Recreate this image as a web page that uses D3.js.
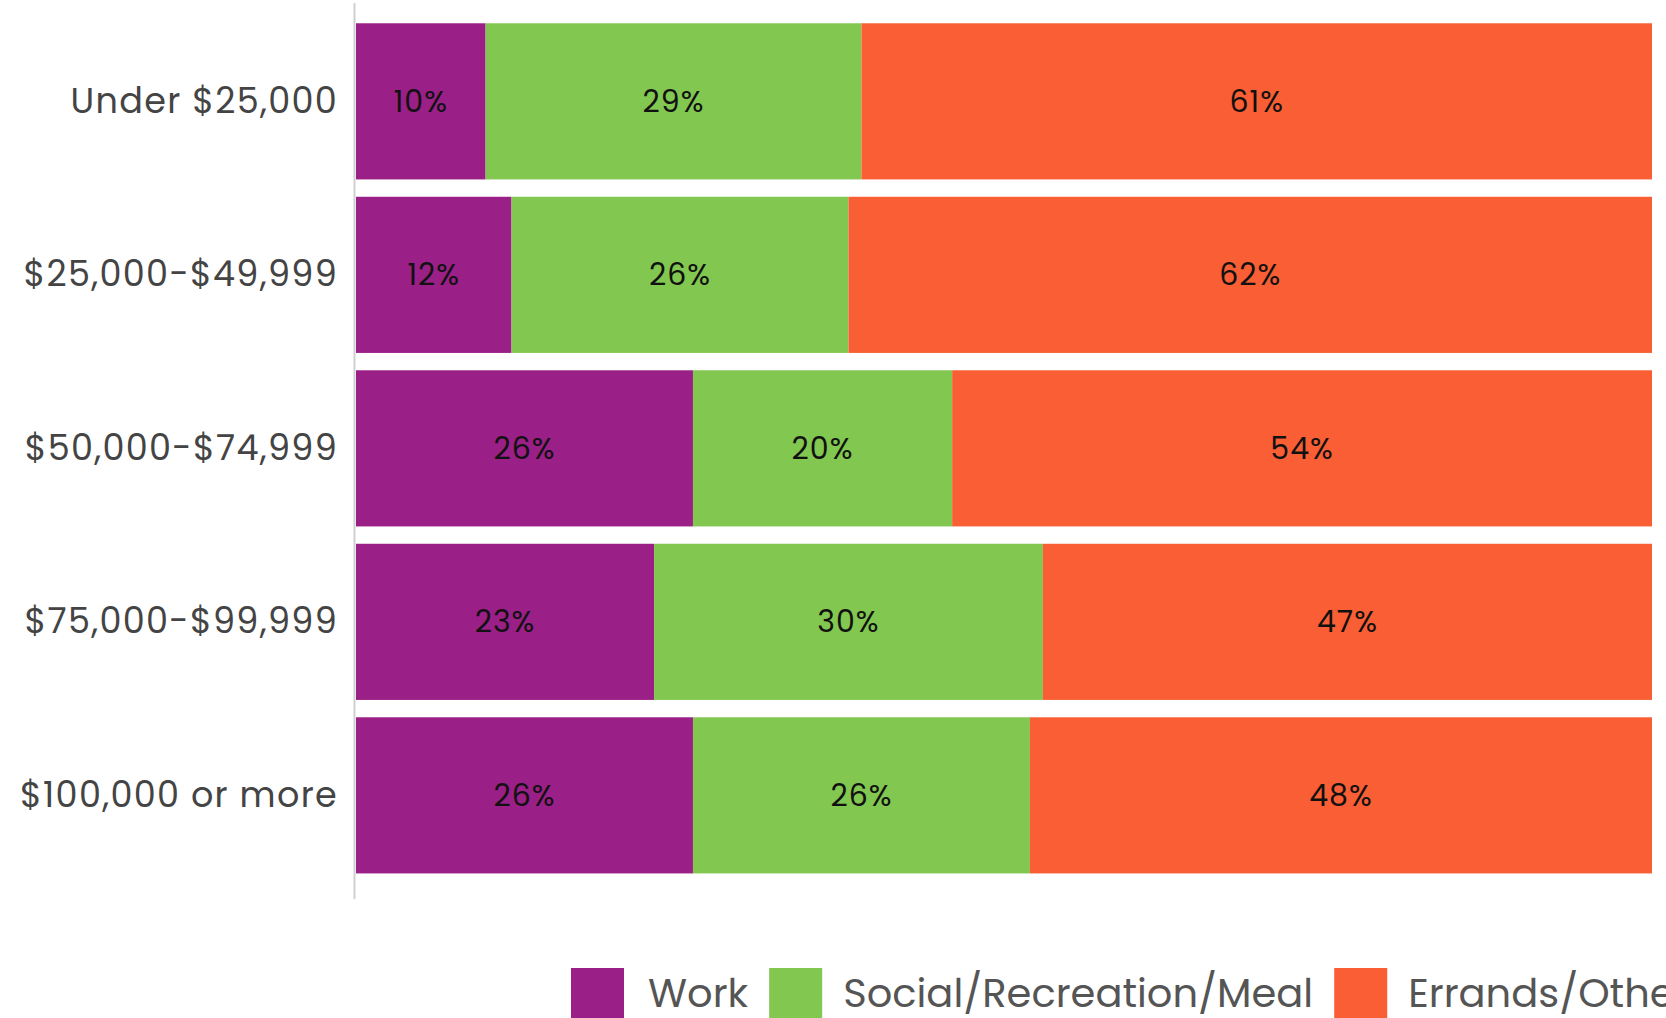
<!DOCTYPE html>
<html>
<head>
<meta charset="utf-8">
<script src="https://cdn.jsdelivr.net/npm/d3@7"></script>
<style>
  html, body { margin: 0; padding: 0; background: #ffffff; overflow: hidden; }
  svg { display: block; }
  text { font-family: Poppins, Inter, "Open Sans", sans-serif; }
</style>
</head>
<body>
<svg id="chart" width="1666" height="1018"></svg>
<script>
// Trip purpose share by household income
const categories = ["Under $25,000", "$25,000-$49,999", "$50,000-$74,999", "$75,000-$99,999", "$100,000 or more"];
const seriesNames = ["Work", "Social/Recreation/Meal", "Errands/Other"];
const work = [10, 12, 26, 23, 26];
const social = [29, 26, 20, 30, 26];
const errands = [61, 62, 54, 47, 48];
const colors = ["#9A1F87", "#82C750", "#F95E34"];

const svg = d3.select("#chart");

const rows = categories.map((c, i) => ({ category: c, "Work": work[i], "Social/Recreation/Meal": social[i], "Errands/Other": errands[i] }));
const stacked = d3.stack().keys(seriesNames)(rows);

const x = d3.scaleLinear().domain([0, 100]).range([356, 1652]);
const y = d3.scaleBand().domain(categories).range([14.6, 882.1]).paddingInner(0.1).paddingOuter(0.05);
const color = d3.scaleOrdinal().domain(seriesNames).range(colors);

// bars
const layers = svg.append("g").selectAll("g")
  .data(stacked)
  .join("g")
  .attr("fill", d => color(d.key));

layers.selectAll("rect")
  .data(d => d)
  .join("rect")
  .attr("x", d => x(d[0]))
  .attr("y", d => y(d.data.category))
  .attr("width", d => x(d[1]) - x(d[0]))
  .attr("height", y.bandwidth());

// value labels
layers.selectAll("text")
  .data(d => d.map(v => ({ v, key: d.key })))
  .join("text")
  .attr("x", d => (x(d.v[0]) + x(d.v[1])) / 2)
  .attr("y", d => y(d.v.data.category) + y.bandwidth() / 2)
  .attr("text-anchor", "middle")
  .attr("dominant-baseline", "central")
  .attr("fill", "#111111")
  .attr("font-size", 30)
  .attr("letter-spacing", 1)
  .text(d => d.v.data[d.key] + "%");

// category axis
const axis = svg.append("g")
  .attr("transform", `translate(${x(0) - 2},0)`)
  .call(d3.axisLeft(y).tickSize(0).tickPadding(16));
axis.select(".domain").remove();
axis.selectAll("text")
  .attr("font-size", 35)
  .attr("letter-spacing", 1.3)
  .attr("fill", "#444444")
  .attr("font-family", "Poppins, Inter, 'Open Sans', sans-serif");

svg.append("line")
  .attr("x1", x(0) - 1.5).attr("x2", x(0) - 1.5)
  .attr("y1", 3).attr("y2", 899)
  .attr("stroke", "#d0d0d0")
  .attr("stroke-width", 2);

// legend
const legend = svg.append("g").attr("transform", "translate(571,968)");
let cursor = 0;
seriesNames.forEach((name, i) => {
  const g = legend.append("g").attr("transform", `translate(${cursor},0)`);
  g.append("rect").attr("width", 53).attr("height", 53).attr("fill", color(name));
  const t = g.append("text")
    .attr("x", i === 0 ? 77 : 74)
    .attr("y", 38.5)
    .attr("font-size", 40)
    .attr("fill", "#555555")
    .text(name);
  cursor += (i === 0 ? 77 : 74) + t.node().getComputedTextLength() + 21;
});
</script>
</body>
</html>
